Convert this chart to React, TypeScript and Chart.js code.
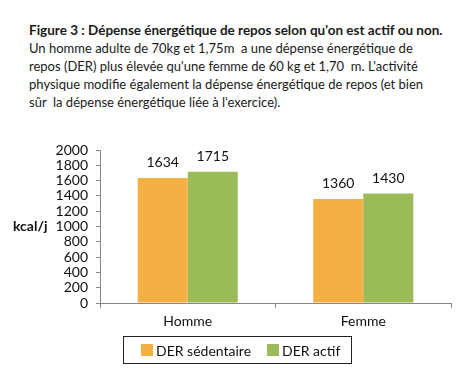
import React, { useEffect, useRef } from "react";
import { Chart, registerables } from "chart.js";

Chart.register(...registerables);

const titleLine = "Figure 3 : Dépense énergétique de repos selon qu'on est actif ou non.";
const bodyLines = [
  "Un homme adulte de 70kg et 1,75m  a une dépense énergétique de",
  "repos (DER) plus élevée qu'une femme de 60 kg et 1,70  m. L'activité",
  "physique modifie également la dépense énergétique de repos (et bien",
  "sûr  la dépense énergétique liée à l'exercice).",
];
const categories = ["Homme", "Femme"];
const seriesNames = ["DER sédentaire", "DER actif"];
const sedentaire = [1634, 1360];
const actif = [1715, 1430];
const yAxisTitle = "kcal/j";
const yMin = 0;
const yMax = 2000;
const yStep = 200;

const FONT = "Lato, 'Open Sans', sans-serif";
const ORANGE = "#F5B043";
const GREEN = "#9BBB59";
const AXIS = "#868686";

const valueLabels = {
  id: "valueLabels",
  afterDatasetsDraw(chart: any) {
    const ctx = chart.ctx;
    ctx.save();
    ctx.font = `14px ${FONT}`;
    ctx.fillStyle = "#111";
    ctx.textAlign = "center";
    ctx.textBaseline = "alphabetic";
    chart.data.datasets.forEach((ds: any, i: number) => {
      const meta = chart.getDatasetMeta(i);
      meta.data.forEach((bar: any, j: number) => {
        ctx.fillText(String(ds.data[j]), bar.x, bar.y - 11);
      });
    });
    ctx.restore();
  },
};

const yTitle = {
  id: "yTitle",
  afterDraw(chart: any) {
    const ctx = chart.ctx;
    const a = chart.chartArea;
    ctx.save();
    ctx.font = `bold 14px ${FONT}`;
    ctx.fillStyle = "#111";
    ctx.textAlign = "left";
    ctx.textBaseline = "middle";
    ctx.fillText(yAxisTitle, 13, (a.top + a.bottom) / 2);
    ctx.restore();
  },
};

const boxLegend = {
  id: "boxLegend",
  afterDraw(chart: any) {
    const ctx = chart.ctx;
    ctx.save();
    ctx.font = `14px ${FONT}`;
    const x0 = 123.5, y0 = 336.5, w = 228, h = 27;
    ctx.strokeStyle = "#222";
    ctx.lineWidth = 1;
    ctx.strokeRect(x0, y0, w, h);
    let x = 141;
    const cy = y0 + h / 2;
    ctx.textBaseline = "middle";
    ctx.textAlign = "left";
    chart.data.datasets.forEach((ds: any) => {
      ctx.fillStyle = ds.backgroundColor;
      ctx.fillRect(x, cy - 6, 12, 12);
      ctx.fillStyle = "#111";
      ctx.fillText(ds.label, x + 15, cy + 1);
      x += 15 + ctx.measureText(ds.label).width + 16;
    });
    ctx.restore();
  },
};

function ChartCanvas() {
  const ref = useRef<HTMLCanvasElement | null>(null);
  useEffect(() => {
    if (!ref.current) return;
    const chart = new Chart(ref.current, {
      type: "bar",
      data: {
        labels: categories,
        datasets: [
          { label: seriesNames[0], data: sedentaire, backgroundColor: ORANGE, barPercentage: 1, categoryPercentage: 0.57 },
          { label: seriesNames[1], data: actif, backgroundColor: GREEN, barPercentage: 1, categoryPercentage: 0.57 },
        ],
      },
      options: {
        animation: false,
        responsive: false,
        devicePixelRatio: 1,
        layout: { padding: { top: 150, right: 23, left: 0, bottom: 0 } },
        plugins: { legend: { display: false }, title: { display: false }, tooltip: { enabled: false } },
        scales: {
          x: {
            grid: { offset: true, drawOnChartArea: false, tickLength: 5, color: AXIS },
            border: { color: AXIS },
            ticks: { font: { family: FONT, size: 14 }, color: "#111", padding: 5 },
            afterFit(scale: any) { scale.height = 69; },
          },
          y: {
            min: yMin,
            max: yMax,
            grid: { drawOnChartArea: false, tickLength: 4, color: AXIS },
            border: { color: AXIS },
            ticks: {
              stepSize: yStep,
              autoSkip: false,
              font: { family: FONT, size: 14 },
              color: "#111",
              padding: 8,
              callback: (v: any) => String(v),
            },
            afterFit(scale: any) { scale.width = 100; },
          },
        },
      },
      plugins: [valueLabels, yTitle, boxLegend],
    } as any);
    return () => chart.destroy();
  }, []);
  return <canvas ref={ref} width={474} height={372} style={{ position: "absolute", left: 0, top: 0, width: 474, height: 372 }} />;
}

export default function App() {
  useEffect(() => {
    document.body.style.margin = "0";
  }, []);
  return (
    <div style={{ position: "relative", width: 474, height: 372, background: "#fff", overflow: "hidden" }}>
      <div style={{ position: "absolute", left: 29, top: 21, fontFamily: FONT, fontSize: 13, lineHeight: "18px", color: "#1a1a1a", whiteSpace: "pre" }}>
        <div style={{ fontWeight: "bold", fontSize: 13.5 }}>{titleLine}</div>
        {bodyLines.map((l, i) => <div key={i}>{l}</div>)}
      </div>
      <ChartCanvas />
    </div>
  );
}
